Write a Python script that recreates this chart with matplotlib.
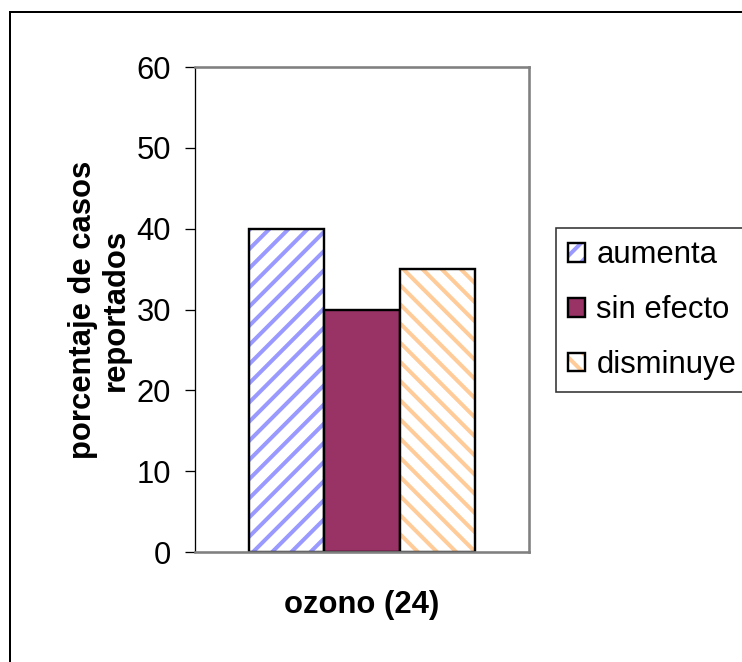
import matplotlib
matplotlib.use("Agg")
import matplotlib.pyplot as plt
from matplotlib.patches import Rectangle, Patch
from matplotlib.legend_handler import HandlerTuple

series = ['aumenta', 'sin efecto', 'disminuye']
values = [40, 30, 35]
category = 'ozono (24)'

colors = ['white', '#993366', 'white']
hatch_colors = ['#9999FF', '#993366', '#FFCC99']
hatches = ['//', '', '\\\\']

# dpi chosen so the hatch stripes get about the same spacing as the reference
DPI = 115
W, H = 742, 662

def pt(px):
    return px * 72 / DPI

plt.rcParams['font.family'] = ['Liberation Sans', 'DejaVu Sans']
plt.rcParams['hatch.linewidth'] = pt(4.0)

fig = plt.figure(figsize=(W / DPI, H / DPI), dpi=DPI)
ax = fig.add_axes([195 / W, 1 - 552 / H, 334 / W, 485 / H])

# outer chart border (runs off the right/bottom edge)
fig.patches.append(Rectangle((10 / W, -0.5), 1.5, 1 - 12 / H + 0.5,
                             transform=fig.transFigure, fill=False,
                             edgecolor='black', linewidth=pt(2)))

fs = pt(31)
bw = 0.2246
xs = [0.5 - bw, 0.5, 0.5 + bw]
handles = []
for x, v, fc, hc, h, lab in zip(xs, values, colors, hatch_colors, hatches, series):
    ax.bar(x, v, width=bw, color=fc, hatch=h, edgecolor=hc, linewidth=0)
    ax.bar(x, v, width=bw, fill=False, edgecolor='black', linewidth=pt(2.4))
    handles.append((Patch(facecolor=fc, hatch=h, edgecolor=hc, linewidth=0),
                    Patch(fill=False, edgecolor='black', linewidth=pt(2.4))))

ax.set_xlim(0, 1)
ax.set_ylim(0, 60)
ax.set_yticks(range(0, 61, 10))
ax.set_xticks([])
ax.tick_params(axis='y', labelsize=fs, length=pt(10), width=pt(1.3),
               direction='out', pad=pt(14))

for s in ['top', 'right', 'bottom']:
    ax.spines[s].set_color('#808080')
    ax.spines[s].set_linewidth(pt(2.6))
ax.spines['left'].set_color('black')
ax.spines['left'].set_linewidth(pt(1.3))

ax.set_xlabel(category, fontsize=fs, fontweight='bold', va='center')
ax.xaxis.set_label_coords(0.5, -0.109)
ax.set_ylabel('porcentaje de casos\nreportados', fontsize=fs, fontweight='bold',
              va='center', linespacing=1.12)
ax.yaxis.set_label_coords(-0.285, 0.5)

leg = fig.legend(handles, series, handler_map={tuple: HandlerTuple(ndivide=1)},
                 loc='upper left', bbox_to_anchor=(556 / W, 1 - 228 / H),
                 fontsize=fs, frameon=True, fancybox=False, edgecolor='black',
                 handlelength=0.55, handleheight=0.55, handletextpad=0.35,
                 labelspacing=0.8, borderpad=0.4, borderaxespad=0)
leg.get_frame().set_linewidth(pt(1.6))

fig.savefig('out.png', dpi=DPI)
